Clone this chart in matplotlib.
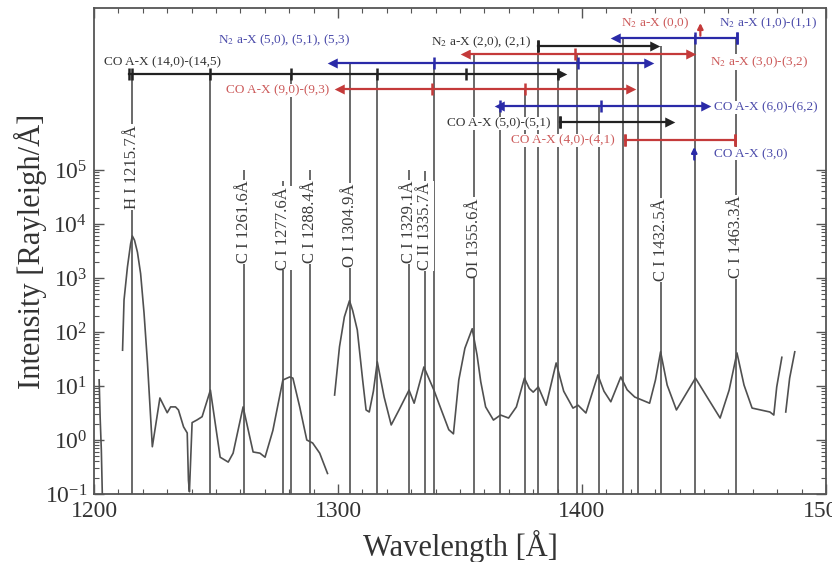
"""
Espectro FUV (log) com linhas atômicas e bandas CO / N2 marcadas.
"""
import matplotlib.pyplot as plt
from matplotlib.ticker import (FixedLocator, MultipleLocator,
                               LogFormatterMathtext, NullFormatter)

plt.rcParams['font.family'] = 'Liberation Serif'
plt.rcParams['mathtext.fontset'] = 'stix'

# ------------------------------------------------ espectro (4 trechos)
SEG0_WL = [1202.1, 1202.5, 1203.0, 1203.4]
SEG0_I = [13, 2.7, 0.65, 0.1]

SEG1_WL = [1211.7, 1212.3, 1213.7, 1215.0, 1215.7, 1216.6, 1217.8, 1219.1,
           1220.5, 1221.9, 1223.9, 1227.0, 1230.0, 1231.4, 1233.4, 1234.6,
           1236.7, 1238.2, 1238.7, 1239.1, 1240.2, 1242.2, 1244.3, 1247.7,
           1251.7, 1255.0, 1257.0, 1261.1, 1265.2, 1268.0, 1270.1, 1273.3,
           1277.4, 1280.2, 1281.5, 1284.3, 1287.2, 1289.6, 1292.5, 1295.7]
SEG1_I = [46, 390, 1600, 4300, 6000, 5000, 3000, 1200,
          225, 27, 0.75, 6.0, 3.2, 4.1, 4.1, 3.6,
          1.75, 1.35, 0.18, 0.11, 2.1, 2.35, 2.7, 8.4,
          0.48, 0.39, 0.57, 4.1, 0.6, 0.57, 0.48, 1.5,
          12.9, 14.7, 14.0, 4.1, 1.0, 0.88, 0.57, 0.24]

SEG2_WL = [1298.6, 1300.6, 1302.6, 1304.7, 1306.0, 1307.9, 1310.1, 1311.5,
           1312.8, 1314.5, 1316.1, 1318.9, 1321.8, 1325.0, 1329.1, 1331.2,
           1335.2, 1339.3, 1341.3, 1345.4, 1347.3, 1349.5, 1352.0, 1355.0,
           1357.0, 1358.5, 1360.5, 1363.7, 1366.6, 1369.9, 1373.1, 1376.4,
           1378.4, 1380.0, 1382.1, 1385.3, 1389.4, 1392.5, 1396.3, 1398.4,
           1401.6, 1406.5, 1409.0, 1411.8, 1415.9, 1418.5, 1421.6, 1427.7,
           1430.1, 1432.2, 1434.9, 1438.7, 1446.5, 1451.5, 1456.6, 1460.3,
           1463.5, 1466.4, 1469.7, 1477.0, 1478.6, 1479.8, 1481.9]
SEG2_I = [6.8, 53, 190, 380, 250, 109, 12.9, 3.6,
          3.3, 8.0, 28, 6.25, 1.9, 3.6, 8.4, 4.8,
          22.5, 8.4, 4.8, 1.55, 1.3, 12.9, 50, 115,
          37, 12, 4.1, 2.34, 2.9, 2.55, 4.1, 14,
          9.0, 7.7, 9.6, 4.4, 26.7, 8.0, 3.9, 4.4,
          3.16, 16, 8.0, 5.1, 14.7, 8.5, 6.25, 4.8,
          12.9, 43, 10.4, 3.6, 14, 6.0, 2.55, 8.4,
          41, 10.4, 3.9, 3.3, 2.9, 9.6, 34]

SEG3_WL = [1483.5, 1485.1, 1487.2]
SEG3_I = [3.3, 14, 43]

# ------------------------------------------------ linhas atômicas rotuladas
LINE_NAMES = ["H I 1215.7Å", "C I 1261.6Å", "C I 1277.6Å", "C I 1288.4Å",
              "O I 1304.9Å", "C I 1329.1Å", "C II 1335.7Å", "OI 1355.6Å",
              "C I 1432.5Å", "C I 1463.3Å"]
LINE_WL = [1215.7, 1261.6, 1277.6, 1288.4, 1304.9, 1329.1, 1335.7, 1355.6,
           1432.5, 1463.3]
LINE_TOP = [0.864, 0.667, 0.644, 0.667, 0.887, 0.667, 0.665, 0.906, 0.922, 0.938]
LINE_LABEL_Y = [0.673, 0.560, 0.547, 0.560, 0.553, 0.560, 0.551, 0.527, 0.523, 0.529]

# cabeças de banda sem rótulo
HEAD_WL = [1247.7, 1280.7, 1316.1, 1339.3, 1366.2, 1376.8, 1382.1, 1390.2,
           1398.0, 1407.0, 1416.7, 1422.8, 1446.4]
HEAD_TOP = [0.864, 0.864, 0.864, 0.887, 0.798, 0.833, 0.922, 0.864,
            0.907, 0.798, 0.938, 0.889, 0.944]

# ------------------------------------------------ bandas moleculares
# (rótulo, cor, início, fim, cabeças)
BANDS = [
    ("CO A-X (14,0)-(14,5)", "k", 1214.3, 1391.4,
     [1215.5, 1247.7, 1280.7, 1316.1, 1352.3, 1390.2]),
    ("N$_2$ a-X (5,0), (5,1), (5,3)", "b", 1297.8, 1426.9, [1339.3, 1398.4]),
    ("CO A-X (9,0)-(9,3)", "r", 1301.0, 1419.6, [1338.5, 1376.8]),
    ("N$_2$ a-X (2,0), (2,1)", "k", 1382.1, 1429.7, [1382.1]),
    ("N$_2$ a-X (3,0)-(3,2)", "r", 1352.3, 1444.4, [1397.1]),
    ("N$_2$ a-X (1,0)-(1,1)", "b", 1413.8, 1463.5, [1446.4, 1463.5]),
    ("CO A-X (6,0)-(6,2)", "b", 1366.2, 1450.5, [1366.2, 1407.7]),
    ("CO A-X (5,0)-(5,1)", "k", 1391.0, 1435.8, [1391.0]),
    ("CO A-X (4,0)-(4,1)", "r", 1417.5, 1462.7, [1417.5, 1462.7]),
]
# bandas isoladas (marcador com seta)
SINGLE = [("N$_2$ a-X (0,0)", "r", 1448.5), ("CO A-X (3,0)", "b", 1446.0)]

# layout: y da barra, x do texto, y do texto, alinhamento, ponta esq., ponta dir.
BAND_LAYOUT = [
    (0.864, 1204.1, 0.889, "left", "|", ">"),
    (0.887, 1250.9, 0.934, "left", "<", ">"),
    (0.833, 1296.5, 0.831, "right", "<", ">"),
    (0.922, 1379.2, 0.930, "right", "|", ">"),
    (0.906, 1452.5, 0.889, "left", "<", ">"),
    (0.938, 1456.2, 0.969, "left", "<", "|"),
    (0.798, 1454.0, 0.796, "left", "<", ">"),
    (0.765, 1387.0, 0.763, "right", "|", ">"),
    (0.729, 1413.4, 0.728, "right", "|", "|"),
]
SINGLE_LAYOUT = [(0.955, 1444.0, 0.969, "right"), (0.700, 1454.2, 0.700, "left")]

LINE_C = {"k": "#222222", "b": "#2a2aa8", "r": "#c43a3a"}
TEXT_C = {"k": "#333333", "b": "#4b4baa", "r": "#cc5a5a"}
GRAY = "#505050"

# ------------------------------------------------ figura
fig = plt.figure(figsize=(8.32, 5.62), dpi=100)
ax = fig.add_axes([0.1130, 0.121, 0.8798, 0.8648])
trans = ax.get_xaxis_transform()

for wl, it in [(SEG0_WL, SEG0_I), (SEG1_WL, SEG1_I),
               (SEG2_WL, SEG2_I), (SEG3_WL, SEG3_I)]:
    ax.plot(wl, it, color=GRAY, lw=1.2, zorder=3)

ax.vlines(HEAD_WL, 0, HEAD_TOP, transform=trans, color=GRAY, lw=1.2, zorder=2)
ax.vlines(LINE_WL, 0, LINE_TOP, transform=trans, color=GRAY, lw=1.2, zorder=2)

for name, wl, ly in zip(LINE_NAMES, LINE_WL, LINE_LABEL_Y):
    ax.text(wl, ly, name, rotation=90, ha="center", va="center",
            transform=trans, fontsize=12, color="#3a3a3a", zorder=4,
            bbox=dict(fc="white", ec="none", pad=0.6))

for (name, c, x0, x1, heads), (y, tx, ty, ha, m0, m1) in zip(BANDS, BAND_LAYOUT):
    col = LINE_C[c]
    ax.plot([x0, x1], [y, y], color=col, lw=1.6, transform=trans, zorder=5)
    ax.plot(heads, [y] * len(heads), ls="", marker="|", ms=8, mew=1.8,
            color=col, transform=trans, zorder=5)
    ax.plot([x0], [y], ls="", marker=m0, ms=5 if m0 != "|" else 8, mew=1.8,
            color=col, transform=trans, zorder=5)
    ax.plot([x1], [y], ls="", marker=m1, ms=5 if m1 != "|" else 8, mew=1.8,
            color=col, transform=trans, zorder=5)
    ax.text(tx, ty, name, ha=ha, va="center", transform=trans, fontsize=9.5,
            color=TEXT_C[c], zorder=6, bbox=dict(fc="white", ec="none", pad=0.3))

for (name, c, wl), (y, tx, ty, ha) in zip(SINGLE, SINGLE_LAYOUT):
    ax.annotate("", xy=(wl, y + 0.014), xytext=(wl, y - 0.012),
                xycoords=trans, textcoords=trans, zorder=5,
                arrowprops=dict(arrowstyle="-|>", color=LINE_C[c], lw=1.6,
                                mutation_scale=8, shrinkA=0, shrinkB=0))
    ax.text(tx, ty, name, ha=ha, va="center", transform=trans, fontsize=9.5,
            color=TEXT_C[c], zorder=6, bbox=dict(fc="white", ec="none", pad=0.3))

# ------------------------------------------------ eixos
ax.set_yscale("log")
ax.set_xlim(1200, 1500)
ax.set_ylim(0.1, 1e8)
ax.xaxis.set_major_locator(MultipleLocator(100))
ax.xaxis.set_minor_locator(MultipleLocator(10))
ax.yaxis.set_major_locator(FixedLocator([10.0 ** k for k in range(-1, 6)]))
ax.yaxis.set_minor_locator(FixedLocator([m * 10.0 ** k for k in range(-1, 5)
                                         for m in range(2, 10)]))
ax.yaxis.set_major_formatter(LogFormatterMathtext())
ax.yaxis.set_minor_formatter(NullFormatter())
ax.tick_params(which="both", direction="in", top=True, right=True,
               color="#555555", labelsize=17, labelcolor="#333333")
ax.tick_params(which="major", length=7, width=1.0, pad=5)
ax.tick_params(which="minor", length=3.5, width=0.8)
for s in ax.spines.values():
    s.set_color("#555555")
    s.set_linewidth(1.3)

ax.set_xlabel("Wavelength [Å]", fontsize=22, color="#333333")
ax.set_ylabel("Intensity [Rayleigh/Å]", fontsize=22, color="#333333")
ax.xaxis.set_label_coords(0.5, -0.075)
ax.yaxis.set_label_coords(-0.064, 0.5)

fig.savefig("out.png", dpi=100)
